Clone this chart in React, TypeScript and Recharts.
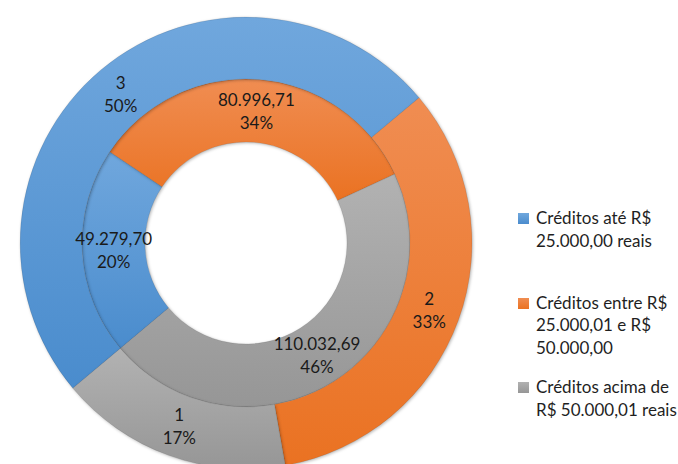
import { PieChart, Pie, Cell, Legend } from "recharts"

// legend text, split the way the original wraps it
const categories = [
  ["Créditos até R$", "25.000,00 reais"],
  ["Créditos entre R$", "25.000,01 e R$", "50.000,00"],
  ["Créditos acima de", "R$ 50.000,01 reais"],
]

// outer ring: number of credits
const counts = [3, 2, 1]
const countPct = ["50%", "33%", "17%"]

// inner ring: amounts in R$
const amounts = [49279.7, 80996.71, 110032.69]
const amountPct = ["20%", "34%", "46%"]

const colors = [
  { id: "blue", top: "#70a7dd", bottom: "#4a8ccd" },
  { id: "orange", top: "#f08d52", bottom: "#ea7222" },
  { id: "gray", top: "#b2b2b2", bottom: "#969696" },
]

const outerData = counts.map((v, i) => ({ name: categories[i].join(" "), value: v }))
const innerData = amounts.map((v, i) => ({ name: categories[i].join(" "), value: v }))

const FONT = "Lato, 'Open Sans', sans-serif"
const RAD = Math.PI / 180

function brl(v: number) {
  const [i, d] = v.toFixed(2).split(".")
  return i.replace(/\B(?=(\d{3})+(?!\d))/g, ".") + "," + d
}

function makeLabel(pcts: string[], fmt: (v: number) => string) {
  return (props: any) => {
    const { cx, cy, midAngle, innerRadius, outerRadius, index, value } = props
    const r = (innerRadius + outerRadius) / 2
    const x = cx + r * Math.cos(-midAngle * RAD)
    const y = cy + r * Math.sin(-midAngle * RAD)
    return (
      <text x={x} y={y} textAnchor="middle" fill="#1a1a1a" fontSize={17} fontFamily={FONT}>
        <tspan x={x} y={y - 5}>{fmt(value)}</tspan>
        <tspan x={x} dy={23}>{pcts[index]}</tspan>
      </text>
    )
  }
}

function LegendBox() {
  return (
    <div style={{ fontFamily: FONT, fontSize: 17, color: "#1f1f1f", lineHeight: "22.5px" }}>
      {categories.map((lines, i) => (
        <div key={i} style={{ height: 84.5, display: "flex" }}>
          <div
            style={{
              width: 11,
              height: 11,
              marginTop: 6,
              marginRight: 7,
              background: `linear-gradient(${colors[i].top}, ${colors[i].bottom})`,
            }}
          />
          <div>
            {lines.map((l, j) => (
              <div key={j} style={{ whiteSpace: "nowrap" }}>{l}</div>
            ))}
          </div>
        </div>
      ))}
    </div>
  )
}

export default function App() {
  return (
    <div style={{ position: "absolute", left: 0, top: 0, width: 678, height: 464, background: "#fff" }}>
      <style>{`.recharts-pie-sector path { filter: drop-shadow(1px 1.5px 1.5px rgba(0,0,0,0.28)); }`}</style>
      <PieChart width={678} height={464}>
        <defs>
          {colors.map((c) => (
            <linearGradient key={c.id} id={"g-" + c.id} x1="0" y1="0" x2="0" y2="1">
              <stop offset="0%" stopColor={c.top} />
              <stop offset="100%" stopColor={c.bottom} />
            </linearGradient>
          ))}
        </defs>

        <Pie
          data={innerData}
          dataKey="value"
          cx={241}
          cy={238}
          innerRadius={101}
          outerRadius={164}
          startAngle={220}
          endAngle={-140}
          stroke="rgba(0,0,0,0.12)"
          strokeWidth={0.75}
          label={makeLabel(amountPct, brl)}
          labelLine={false}
          isAnimationActive={false}
        >
          {innerData.map((d, i) => (
            <Cell key={d.name} fill={`url(#g-${colors[i].id})`} />
          ))}
        </Pie>

        <Pie
          data={outerData}
          dataKey="value"
          cx={241}
          cy={238}
          innerRadius={164}
          outerRadius={226}
          startAngle={220}
          endAngle={-140}
          stroke="rgba(0,0,0,0.12)"
          strokeWidth={0.75}
          label={makeLabel(countPct, (v) => String(v))}
          labelLine={false}
          isAnimationActive={false}
        >
          {outerData.map((d, i) => (
            <Cell key={d.name} fill={`url(#g-${colors[i].id})`} />
          ))}
        </Pie>

        <Legend
          layout="vertical"
          content={() => <LegendBox />}
          wrapperStyle={{ left: 518, top: 207, width: 160 }}
        />
      </PieChart>
    </div>
  )
}
